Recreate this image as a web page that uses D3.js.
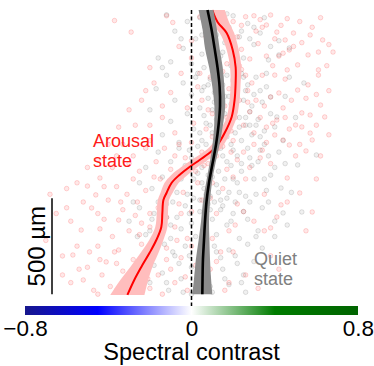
<!DOCTYPE html>
<html>
<head>
<meta charset="utf-8">
<script src="https://cdn.jsdelivr.net/npm/d3@7"></script>
<style>
  body { margin: 0; background: #fff; }
  svg { display: block; font-family: "Liberation Sans", Arial, sans-serif; }
</style>
</head>
<body>
<figure id="chart" style="margin:0"></figure>
<script>
// scatter points: [spectral contrast, depth in µm]
const arousalPoints = [
  [-0.37,55],[-0.29,115],[-0.12,30],[-0.09,65],[-0.06,190],[0.0,250],[0.04,35],[0.07,140],[0.1,95],[0.12,210],
  [0.15,30],[0.17,280],[0.2,60],[0.22,140],[0.24,205],[0.26,35],[0.28,255],[0.3,30],[0.32,175],[0.34,90],
  [0.36,78],[0.38,26],[0.39,290],[0.4,150],[0.41,115],[0.42,240],[0.44,225],[0.45,156],[0.47,208],[0.49,120],
  [0.51,286],[0.53,170],[0.56,234],[0.58,90],[0.61,219],[0.63,156],[0.65,290],[0.68,219],[0.31,110],[0.46,45],
  [-0.3,520],[-0.24,470],[-0.2,600],[-0.18,380],[-0.14,560],[-0.1,430],[-0.08,640],[-0.05,330],[-0.02,510],[0.01,590],
  [0.03,400],[0.05,470],[0.07,620],[0.09,350],[0.1,540],[0.12,450],[0.13,600],[0.15,320],[0.16,500],[0.18,410],
  [0.19,630],[0.2,360],[0.21,560],[0.23,470],[0.24,310],[0.25,600],[0.27,420],[0.28,530],[0.29,380],[0.3,640],
  [0.31,470],[0.33,560],[0.34,340],[0.36,610],[0.38,453],[0.4,339],[0.41,573],[0.42,432],[0.44,510],[0.46,312],
  [0.47,620],[0.5,599],[0.51,417],[0.53,536],[0.53,609],[0.55,460],[0.57,547],[0.57,641],[0.61,312],[0.61,339],
  [0.62,495],[0.64,557],[0.66,420],[0.35,500],[0.22,450],[0.08,520],[0.17,560],[0.26,340],
  [-0.45,780],[-0.38,820],[-0.33,700],[-0.28,760],[-0.25,840],[-0.2,680],[-0.17,790],[-0.13,720],[-0.1,830],[-0.06,700],
  [-0.03,770],[0.0,690],[0.02,840],[0.05,740],[0.08,800],[0.1,660],[0.12,760],[0.15,710],[0.17,830],[0.2,680],
  [0.22,780],[0.25,740],[0.28,820],[0.3,700],[0.33,770],[0.36,690],[0.38,800],[0.4,651],[0.44,677],[0.46,875],
  [0.47,703],[0.5,760],[0.55,734],[0.58,677],[-0.4,700],[0.19,740],[-0.08,760],
  [-0.68,960],[-0.6,1030],[-0.55,900],[-0.53,1146],[-0.5,917],[-0.48,1031],[-0.46,963],[-0.44,875],[-0.42,1090],[-0.4,990],
  [-0.38,1180],[-0.36,920],[-0.35,1094],[-0.33,1040],[-0.31,960],[-0.3,1150],[-0.28,880],[-0.26,1000],[-0.24,1110],[-0.22,940],
  [-0.2,1060],[-0.18,870],[-0.16,1170],[-0.14,990],[-0.12,1080],[-0.1,900],[-0.08,1130],[-0.06,1010],[-0.04,950],[-0.02,1190],
  [0.0,1050],[0.03,900],[0.06,1120],[0.09,980],[0.12,1060],[0.15,930],[0.18,1150],[0.22,1010],[0.26,880],[0.3,1100],
  [0.38,1135],[0.41,1078],[0.43,1015],[0.52,953],[0.58,1052],[-0.45,1060],[-0.25,1170],[-0.11,940],
  [-0.62,1281],[-0.58,1420],[-0.57,1276],[-0.52,1406],[-0.5,1340],[-0.47,1460],[-0.45,1230],[-0.43,1380],[-0.41,1312],[-0.39,1440],
  [-0.37,1260],[-0.35,1250],[-0.33,1360],[-0.3,1470],[-0.28,1300],[-0.26,1400],[-0.24,1220],[-0.22,1330],[-0.2,1450],[-0.18,1270],
  [-0.16,1380],[-0.14,1480],[-0.12,1240],[-0.1,1350],[-0.08,1420],[-0.05,1290],[-0.02,1460],[0.02,1330],[0.05,1240],[0.08,1400],
  [0.12,1310],[0.16,1460],[0.2,1260],[0.26,1380],[0.32,1450],[-0.55,1230],[-0.31,1410],
  [0.1,20],[0.24,80],[0.33,50],[0.43,80],[0.52,60],[0.57,130],[0.66,180],[0.49,190],[0.36,240],[0.23,290],
  [0.09,250],[0.0,160],[0.45,360],[0.56,390],[0.6,440],[0.48,470],[0.39,590],[0.27,480],[0.14,390],[0.04,330],
  [-0.14,500],[-0.22,420],[-0.35,610],[0.45,560],[0.6,600],[0.66,650],[0.52,700],[0.62,760],[0.34,730],[0.06,810],
  [-0.22,720],[-0.3,800],[-0.36,760],[-0.5,820],[-0.15,880],[0.1,900],[0.35,960],[0.46,1000],[0.25,1050],[0.05,990],
  [-0.05,1060],[-0.16,1030],[-0.34,1000],[-0.52,1000],[-0.58,1100],[-0.65,1060],[-0.44,1140],[-0.27,1070],[-0.2,1130],[-0.42,920],
  [-0.6,930],[-0.07,1200],[0.1,1190],[0.21,1120],[-0.44,1300],[-0.54,1350],[-0.49,1260],[-0.36,1320],[-0.29,1370],[-0.21,1400],
  [-0.12,1300],[-0.03,1390],[0.09,1350],[0.18,1420],[-0.36,1460],[-0.45,1480],[-0.62,1380],[0.0,1230],[0.14,1260],[0.38,1280],
  [0.42,1350],[-0.7,1200],[0.35,1150],[0.55,1150],[0.6,880],[0.2,870],[-0.27,600],[-0.2,300],[0.62,40],[0.12,50]
];

const quietPoints = [
  [-0.12,25],[-0.16,250],[-0.14,300],[-0.08,110],[-0.04,200],[-0.02,60],[0.0,280],[0.02,150],[0.04,40],[0.05,230],
  [0.07,100],[0.08,180],[0.1,20],[0.11,270],[0.12,130],[0.13,60],[0.15,220],[0.16,170],[0.18,90],[0.19,290],
  [0.2,30],[0.21,200],[0.23,140],[0.25,250],[0.27,70],[0.3,180],[0.33,120],[0.37,260],[0.42,234],[0.47,198],
  [0.35,40],[0.06,300],[0.14,240],[0.09,50],
  [-0.2,520],[-0.17,410],[-0.14,650],[-0.12,340],[-0.1,580],[-0.08,470],[-0.06,690],[-0.04,380],[-0.02,540],[0.0,440],
  [0.01,620],[0.03,330],[0.04,510],[0.05,680],[0.06,400],[0.07,590],[0.08,460],[0.09,360],[0.1,640],[0.1,520],
  [0.11,430],[0.12,310],[0.12,570],[0.13,690],[0.14,480],[0.15,390],[0.15,610],[0.16,540],[0.17,340],[0.17,660],
  [0.18,450],[0.19,580],[0.2,370],[0.2,500],[0.21,640],[0.22,420],[0.23,560],[0.24,330],[0.24,680],[0.25,470],
  [0.26,600],[0.27,390],[0.28,530],[0.29,650],[0.3,440],[0.31,350],[0.32,570],[0.34,480],[0.35,630],[0.36,400],
  [0.38,453],[0.38,540],[0.4,609],[0.41,557],[0.44,680],[0.47,350],[0.54,380],[0.14,350],[0.06,550],[0.19,490],
  [0.26,420],[0.09,600],[0.33,660],
  [-0.22,820],[-0.19,930],[-0.16,740],[-0.14,870],[-0.12,980],[-0.1,790],[-0.08,900],[-0.06,720],[-0.04,850],[-0.02,960],
  [0.0,770],[0.01,880],[0.03,710],[0.04,990],[0.05,820],[0.06,930],[0.07,750],[0.08,860],[0.09,970],[0.1,800],
  [0.11,720],[0.12,910],[0.13,840],[0.14,990],[0.15,760],[0.16,880],[0.18,950],[0.19,810],[0.2,730],[0.22,900],
  [0.24,840],[0.26,970],[0.28,770],[0.3,880],[0.33,730],[0.36,940],[0.43,927],[0.51,807],[0.6,755],[0.38,860],
  [0.02,800],[0.1,870],
  [-0.3,1100],[-0.25,1030],[-0.22,1170],[-0.18,1060],[-0.15,1130],[-0.12,1010],[-0.1,1190],[-0.07,1080],[-0.05,1140],[-0.03,1020],
  [0.0,1110],[0.02,1180],[0.04,1050],[0.06,1150],[0.08,1010],[0.1,1090],[0.12,1170],[0.14,1040],[0.17,1120],[0.2,1060],
  [0.23,1190],[0.27,1090],[0.32,1150],[0.44,1057],[0.53,1052],[0.07,1120],[-0.01,1060],
  [-0.24,1300],[-0.2,1420],[-0.17,1250],[-0.14,1370],[-0.11,1460],[-0.08,1280],[-0.05,1400],[-0.03,1230],[0.0,1340],[0.02,1450],
  [0.04,1300],[0.06,1210],[0.08,1390],[0.1,1470],[0.12,1260],[0.15,1350],[0.18,1430],[0.21,1280],[0.25,1380],[0.27,1220],
  [0.3,1310],[0.34,1240],[0.26,1470],
  [0.02,350],[0.05,420],[0.08,390],[0.11,480],[0.13,520],[0.16,450],[0.18,600],[0.21,530],[0.23,610],[0.26,560],
  [0.29,500],[0.31,600],[0.33,420],[0.04,640],[0.07,700],[0.09,760],[0.12,650],[0.14,720],[0.17,790],[0.19,700],
  [0.22,760],[0.24,800],[0.27,720],[0.29,810],[0.32,790],[0.35,700],[0.37,760],[0.4,820],[0.42,740],[0.45,800],
  [-0.01,730],[-0.03,810],[-0.05,880],[-0.07,950],[-0.09,1000],[0.03,850],[0.05,900],[0.07,960],[0.09,1040],[0.11,1000],
  [0.13,950],[0.15,1020],[0.17,980],[0.19,1100],[0.21,1000],[0.23,950],[0.25,1050],[0.28,1000],[0.31,960],[0.34,1030],
  [0.37,1000],[0.4,1100],[-0.12,1080],[-0.16,1000],[-0.19,1090],[-0.2,1150],[-0.26,1180],[-0.13,1220],[-0.09,1260],[-0.06,1320],
  [-0.01,1280],[0.03,1380],[0.07,1330],[0.11,1230],[0.14,1290],[0.18,1250],[0.22,1320],[0.24,1420],[0.16,1400],[0.09,1440],
  [-0.18,1330],[-0.22,1380],[-0.12,1420],[0.0,1480],[-0.04,1470],[0.13,480],[0.25,350],[0.28,600],[0.16,660],[0.06,780],
  [0.2,880],[0.35,880],[0.01,980],[-0.1,1120],[0.05,1260],[0.31,1180],[0.48,950],[0.46,1120],[0.4,1180],[0.5,560],
  [0.45,450],[0.36,330],[0.42,160],[0.3,90],[0.24,110],[0.17,20],[0.05,130],[-0.05,150],[-0.1,270],[0.28,150],
  [0.38,190],[-0.25,900],[-0.28,1000]
];

// smoothed fits with confidence bands
const arousalDepth = [0,62,120,208,297,380,469,557,641,703,740,781,818,859,901,953,990,1057,1130,1198,1266,1338,1406,1484];
const arousalMean  = [0.100,0.125,0.169,0.198,0.212,0.212,0.207,0.193,0.159,0.125,0.092,0.039,-0.010,-0.058,-0.096,-0.120,-0.135,-0.140,-0.145,-0.169,-0.202,-0.241,-0.275,-0.308];
const arousalLower = [0.049,0.086,0.135,0.169,0.185,0.188,0.183,0.169,0.132,0.096,0.058,0.000,-0.049,-0.097,-0.130,-0.149,-0.162,-0.167,-0.174,-0.203,-0.245,-0.294,-0.342,-0.390];
const arousalUpper = [0.160,0.180,0.205,0.227,0.239,0.236,0.231,0.217,0.186,0.154,0.126,0.078,0.029,-0.019,-0.062,-0.091,-0.108,-0.113,-0.116,-0.135,-0.159,-0.188,-0.208,-0.226];

const quietDepth = [0,100,200,300,400,500,600,700,800,900,1000,1100,1200,1300,1400,1480];
const quietMean  = [0.077,0.096,0.111,0.125,0.135,0.137,0.130,0.118,0.101,0.084,0.072,0.065,0.060,0.055,0.053,0.052];
const quietLower = [0.034,0.053,0.065,0.085,0.100,0.110,0.109,0.101,0.087,0.070,0.055,0.046,0.034,0.021,0.012,0.004];
const quietUpper = [0.105,0.122,0.135,0.150,0.158,0.162,0.151,0.135,0.115,0.098,0.089,0.084,0.086,0.089,0.094,0.100];

const colorTicks = [-0.8, 0, 0.8];
const colorStops = [
  {value: -0.8, color: "#17178c"},
  {value: -0.45, color: "#0000ff"},
  {value: 0, color: "#ffffff"},
  {value: 0.4, color: "#007c00"},
  {value: 0.8, color: "#006400"}
];

const width = 374, height = 366;

const svg = d3.select("#chart").append("svg")
  .attr("width", width)
  .attr("height", height);

const x = d3.scaleLinear().domain([-0.8, 0.8]).range([25, 358]);
const y = d3.scaleLinear().domain([0, 1500]).range([10, 298]);

// points
svg.append("g").selectAll("circle")
  .data(arousalPoints)
  .enter().append("circle")
  .attr("cx", d => x(d[0]))
  .attr("cy", d => y(d[1]))
  .attr("r", 2.3)
  .attr("fill", "red").attr("fill-opacity", 0.09)
  .attr("stroke", "red").attr("stroke-opacity", 0.16).attr("stroke-width", 1);

svg.append("g").selectAll("circle")
  .data(quietPoints)
  .enter().append("circle")
  .attr("cx", d => x(d[0]))
  .attr("cy", d => y(d[1]))
  .attr("r", 2.3)
  .attr("fill", "#555").attr("fill-opacity", 0.09)
  .attr("stroke", "#555").attr("stroke-opacity", 0.17).attr("stroke-width", 1);

// fits
const band = d3.area()
  .y(d => y(d.depth))
  .x0(d => x(d.lo))
  .x1(d => x(d.hi))
  .curve(d3.curveCatmullRom);
const fit = d3.line()
  .y(d => y(d.depth))
  .x(d => x(d.mean))
  .curve(d3.curveCatmullRom);

const arousal = arousalDepth.map((dp, i) => ({depth: dp, mean: arousalMean[i], lo: arousalLower[i], hi: arousalUpper[i]}));
const quiet = quietDepth.map((dp, i) => ({depth: dp, mean: quietMean[i], lo: quietLower[i], hi: quietUpper[i]}));

svg.append("path").datum(arousal)
  .attr("d", band).attr("fill", "#ffbdbd");
svg.append("path").datum(arousal)
  .attr("d", fit).attr("fill", "none").attr("stroke", "red").attr("stroke-width", 2);

svg.append("path").datum(quiet)
  .attr("d", band).attr("fill", "#8c8c8c");
svg.append("path").datum(quiet)
  .attr("d", fit).attr("fill", "none").attr("stroke", "black").attr("stroke-width", 2.6);

// zero line
svg.append("line")
  .attr("x1", x(0)).attr("x2", x(0))
  .attr("y1", y(0)).attr("y2", 306)
  .attr("stroke", "black").attr("stroke-width", 1.5)
  .attr("stroke-dasharray", "4,2.5");

// scale bar
svg.append("line")
  .attr("x1", 52).attr("x2", 52)
  .attr("y1", y(980)).attr("y2", y(1480))
  .attr("stroke", "black").attr("stroke-width", 1.5);
svg.append("text")
  .attr("transform", `translate(45,${(y(980) + y(1480)) / 2}) rotate(-90)`)
  .attr("text-anchor", "middle")
  .style("font-size", "24px")
  .text("500 µm");

// state labels
const arousalLabel = svg.append("text").attr("fill", "#ff1a1a").style("font-size", "18px");
arousalLabel.append("tspan").attr("x", 93).attr("y", 147).text("Arousal");
arousalLabel.append("tspan").attr("x", 93).attr("y", 167).text("state");

const quietLabel = svg.append("text").attr("fill", "#808080").style("font-size", "18px");
quietLabel.append("tspan").attr("x", 254).attr("y", 265).text("Quiet");
quietLabel.append("tspan").attr("x", 254).attr("y", 285).text("state");

// colour bar
const grad = svg.append("defs").append("linearGradient")
  .attr("id", "cbar").attr("x1", "0%").attr("x2", "100%");
grad.selectAll("stop")
  .data(colorStops)
  .enter().append("stop")
  .attr("offset", d => ((d.value + 0.8) / 1.6 * 100) + "%")
  .attr("stop-color", d => d.color);

svg.append("rect")
  .attr("x", x(-0.8)).attr("y", 306)
  .attr("width", x(0.8) - x(-0.8)).attr("height", 9)
  .attr("fill", "url(#cbar)");

const axis = svg.append("g")
  .attr("transform", "translate(0,315)")
  .call(d3.axisBottom(x).tickValues(colorTicks).tickSize(0)
    .tickFormat(d => d === 0 ? "0" : d3.format(".1f")(d)));
axis.select(".domain").remove();
axis.selectAll("text")
  .attr("dy", "0")
  .attr("y", 20.5)
  .style("font-size", "22.5px")
  .style("font-family", "'Liberation Sans', Arial, sans-serif")
  .attr("fill", "black");

svg.append("text")
  .attr("x", x(0))
  .attr("y", 359.5)
  .attr("text-anchor", "middle")
  .style("font-size", "23.5px")
  .text("Spectral contrast");
</script>
</body>
</html>
